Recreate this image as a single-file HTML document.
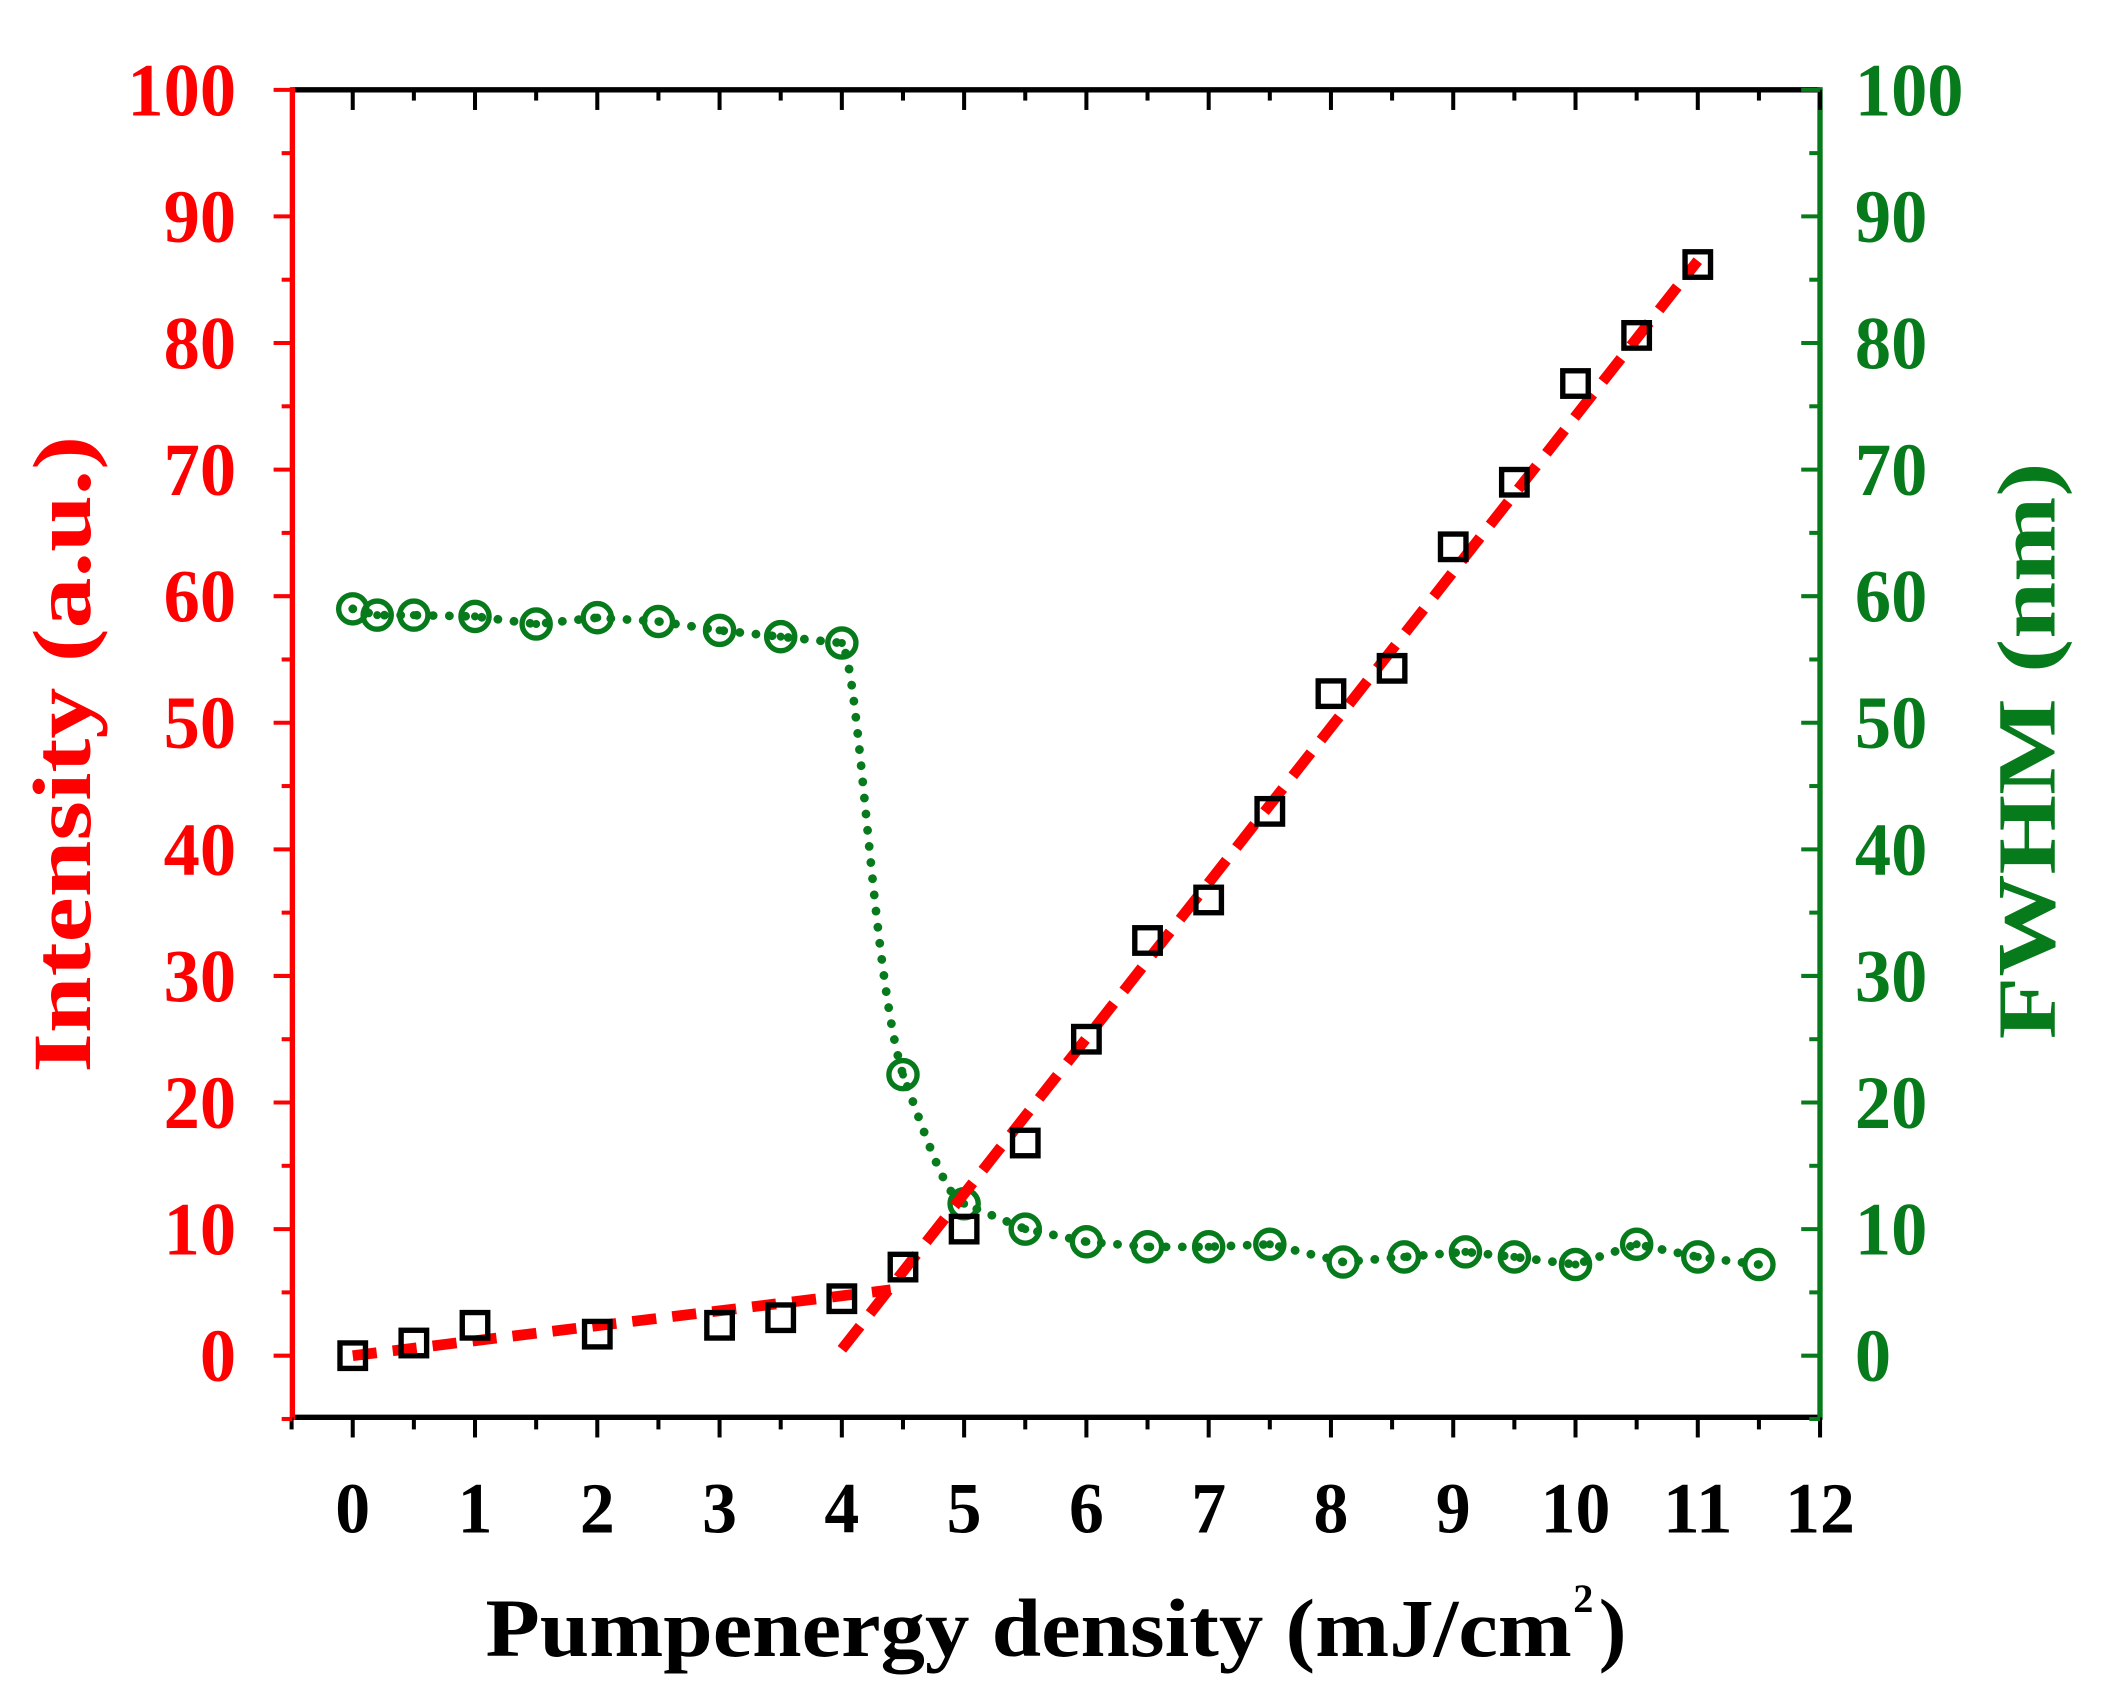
<!DOCTYPE html>
<html><head><meta charset="utf-8"><style>
html,body{margin:0;padding:0;background:#fff;}
svg{display:block;}
text{font-family:"Liberation Serif",serif;font-weight:bold;}
</style></head><body>
<svg id="s" width="2103" height="1707" viewBox="0 0 1568 1273" preserveAspectRatio="none" xmlns="http://www.w3.org/2000/svg"></svg>
<script>
const s=document.getElementById('s');
const X=x=>263+91.17*x, Y=y=>1011-9.44*y;
let h='';
const R='#ff0000',G='#077a1c';
h+=`<line x1="218" y1="67" x2="1357" y2="67" stroke="#000" stroke-width="4"/>`;
h+=`<line x1="218" y1="1057" x2="1357" y2="1057" stroke="#000" stroke-width="4"/>`;
h+=`<line x1="218" y1="65" x2="218" y2="1059" stroke="${R}" stroke-width="4"/>`;
h+=`<line x1="1357" y1="65" x2="1357" y2="1059" stroke="${G}" stroke-width="4"/>`;
for(let i=-0.5;i<=12.01;i+=0.5){
  const major=Math.abs(i-Math.round(i))<0.01;
  const x=X(i);
  h+=`<line x1="${x}" y1="1057" x2="${x}" y2="${major?1072:1066}" stroke="#000" stroke-width="3"/>`;
  if(i>=0) h+=`<line x1="${x}" y1="67" x2="${x}" y2="${major?82:75}" stroke="#000" stroke-width="3"/>`;
  if(major&&i>=0&&i<=12){const t=String(i);h+=`<text x="${x}" y="1143" font-size="54" text-anchor="middle" fill="#000" textLength="${t.length*26}" lengthAdjust="spacingAndGlyphs">${t}</text>`;}
}
for(let v=-5;v<=100;v+=5){
  const y=Y(v),major=v%10==0;
  h+=`<line x1="218" y1="${y}" x2="${major?204:210}" y2="${y}" stroke="${R}" stroke-width="3"/>`;
  h+=`<line x1="1357" y1="${y}" x2="${major?1343:1349}" y2="${y}" stroke="${G}" stroke-width="3"/>`;
  if(major&&v>=0){
    const t=String(v),w=t.length*27;
    h+=`<text x="${176-w}" y="${y+19}" font-size="56" fill="${R}" textLength="${w}" lengthAdjust="spacingAndGlyphs">${t}</text>`;
    h+=`<text x="1383" y="${y+19}" font-size="56" fill="${G}" textLength="${w}" lengthAdjust="spacingAndGlyphs">${t}</text>`;
  }
}
h+=`<text transform="translate(67,800) rotate(-90)" font-size="62" fill="${R}" textLength="475" lengthAdjust="spacingAndGlyphs">Intensity (a.u.)</text>`;
h+=`<text transform="translate(1532,775) rotate(-90)" font-size="62" fill="${G}" textLength="430" lengthAdjust="spacingAndGlyphs">FWHM (nm)</text>`;
h+=`<text x="362" y="1235" font-size="62" fill="#000" textLength="810" lengthAdjust="spacingAndGlyphs">Pumpenergy density  (mJ/cm</text><text x="1173" y="1202" font-size="30" fill="#000">2</text><text x="1192" y="1235" font-size="62" fill="#000">)</text>`;
const g=[[0,59],[0.2,58.5],[0.5,58.5],[1,58.4],[1.5,57.8],[2,58.3],[2.5,58],[3,57.3],[3.5,56.8],[4,56.3],[4.5,22.2],[5,12],[5.5,10],[6,9],[6.5,8.6],[7,8.6],[7.5,8.8],[8.1,7.4],[8.6,7.8],[9.1,8.2],[9.5,7.8],[10,7.2],[10.5,8.8],[11,7.8],[11.5,7.2]];
let gp=g.slice(0,10).map(p=>`${X(p[0])},${Y(p[1])}`).join(' L');
gp='M'+gp+` C${X(4.15)},${Y(54)} ${X(4.25)},${Y(30)} ${X(4.5)},${Y(22.2)} C${X(4.7)},${Y(17)} ${X(4.85)},${Y(12.5)} ${X(5)},${Y(12)} L`+g.slice(12).map(p=>`${X(p[0])},${Y(p[1])}`).join(' L');
h+=`<path d="${gp}" fill="none" stroke="${G}" stroke-width="6.5" stroke-dasharray="0.1 12" stroke-linecap="round"/>`;
g.forEach(p=>{h+=`<circle cx="${X(p[0])}" cy="${Y(p[1])}" r="10.5" fill="none" stroke="${G}" stroke-width="4"/><circle cx="${X(p[0])}" cy="${Y(p[1])}" r="3" fill="${G}"/>`;});
h+=`<line x1="${X(0)}" y1="${Y(0)}" x2="${X(4.4)}" y2="${Y(5.2)}" stroke="${R}" stroke-width="8" stroke-dasharray="18 12"/>`;
h+=`<line x1="${X(4)}" y1="${Y(0.5)}" x2="${X(11)}" y2="${Y(86.5)}" stroke="${R}" stroke-width="8" stroke-dasharray="22 12"/>`;
const sq=[[0,0],[0.5,1],[1,2.4],[2,1.7],[3,2.4],[3.5,3],[4,4.5],[4.5,7],[5,10],[5.5,16.8],[6,25],[6.5,32.8],[7,36],[7.5,43],[8,52.3],[8.5,54.3],[9,63.9],[9.5,69],[10,76.8],[10.5,80.6],[11,86.2]];
sq.forEach(p=>{h+=`<rect x="${X(p[0])-9.5}" y="${Y(p[1])-9.5}" width="19" height="19" fill="none" stroke="#000" stroke-width="4"/>`;});
s.innerHTML=h;
</script>
</body></html>
